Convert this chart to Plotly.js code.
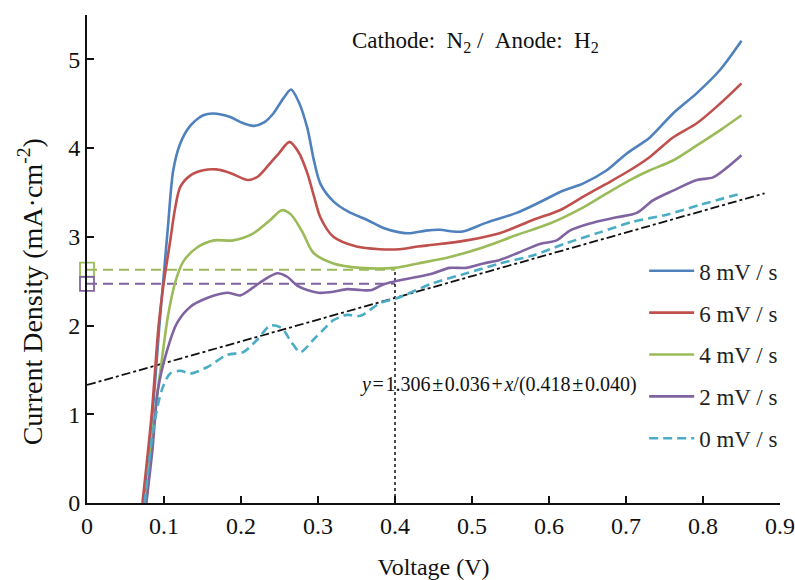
<!DOCTYPE html>
<html>
<head>
<meta charset="utf-8">
<script src="https://cdn.plot.ly/plotly-3.0.1.min.js"></script>
<style>html,body{margin:0;padding:0;background:#fff}#chart{width:795px;height:580px}</style>
</head>
<body>
<div id="chart"></div>
<script>
const seriesNames = ['8 mV / s', '6 mV / s', '4 mV / s', '2 mV / s', '0 mV / s'];

const x8 = [0.073,0.085,0.094,0.1,0.105,0.112,0.121,0.134,0.151,0.164,0.186,0.2,0.216,0.23,0.242,0.255,0.265,0.275,0.286,0.295,0.303,0.32,0.34,0.364,0.385,0.406,0.42,0.44,0.458,0.475,0.488,0.519,0.558,0.588,0.618,0.644,0.675,0.701,0.731,0.761,0.792,0.822,0.85];
const y8 = [0,1.0,2.0,2.6,3.1,3.75,4.05,4.25,4.37,4.39,4.35,4.29,4.25,4.29,4.39,4.56,4.66,4.52,4.23,3.85,3.6,3.40,3.28,3.19,3.1,3.05,3.04,3.07,3.08,3.06,3.06,3.16,3.27,3.39,3.52,3.60,3.75,3.94,4.12,4.39,4.62,4.88,5.21];

const x6 = [0.072,0.084,0.093,0.1,0.108,0.114,0.121,0.134,0.151,0.168,0.186,0.209,0.222,0.233,0.25,0.263,0.275,0.286,0.295,0.303,0.32,0.35,0.38,0.406,0.43,0.45,0.493,0.536,0.579,0.614,0.644,0.675,0.705,0.731,0.761,0.792,0.822,0.85];
const y6 = [0,1.0,2.0,2.5,2.95,3.30,3.56,3.69,3.75,3.76,3.72,3.64,3.68,3.78,3.95,4.07,3.95,3.72,3.45,3.22,3.0,2.89,2.86,2.86,2.89,2.91,2.96,3.04,3.19,3.30,3.45,3.60,3.75,3.90,4.12,4.28,4.50,4.73];

const x4 = [0.077,0.088,0.097,0.105,0.115,0.125,0.143,0.165,0.19,0.216,0.238,0.253,0.265,0.28,0.294,0.32,0.355,0.4,0.43,0.47,0.514,0.558,0.601,0.644,0.675,0.705,0.731,0.761,0.792,0.822,0.85];
const y4 = [0,1.0,1.6,2.1,2.5,2.72,2.88,2.96,2.96,3.04,3.19,3.30,3.25,3.05,2.82,2.70,2.65,2.65,2.70,2.77,2.88,3.02,3.15,3.33,3.49,3.64,3.75,3.86,4.03,4.20,4.37];

const x2 = [0.077,0.085,0.092,0.104,0.117,0.134,0.156,0.182,0.199,0.216,0.229,0.247,0.26,0.273,0.286,0.3,0.32,0.338,0.355,0.37,0.384,0.406,0.43,0.45,0.471,0.493,0.515,0.536,0.56,0.588,0.61,0.627,0.653,0.688,0.714,0.735,0.761,0.792,0.813,0.831,0.85];
const y2 = [0,0.6,1.27,1.72,2.03,2.21,2.31,2.37,2.34,2.43,2.51,2.59,2.55,2.45,2.40,2.37,2.38,2.41,2.40,2.40,2.46,2.51,2.55,2.59,2.65,2.65,2.70,2.74,2.82,2.92,2.96,3.07,3.15,3.22,3.27,3.41,3.52,3.64,3.67,3.78,3.92];

const x0 = [0.075,0.086,0.097,0.108,0.121,0.134,0.156,0.182,0.203,0.221,0.238,0.253,0.265,0.277,0.294,0.31,0.32,0.338,0.355,0.38,0.403,0.45,0.493,0.536,0.579,0.623,0.666,0.709,0.753,0.796,0.85];
const y0 = [0,0.82,1.27,1.46,1.49,1.46,1.53,1.67,1.70,1.84,2.0,1.97,1.82,1.70,1.84,1.98,2.06,2.12,2.11,2.25,2.31,2.48,2.59,2.70,2.79,2.93,3.05,3.17,3.25,3.36,3.49];

const fitX = [0, 0.88];
const fitY = [1.33, 3.49];

const refGreenX = [0, 0.4];
const refGreenY = [2.63, 2.63];
const refPurpleX = [0, 0.4];
const refPurpleY = [2.47, 2.47];
const vlineX = [0.4, 0.4];
const vlineY = [0, 2.65];

const xTicks = [0,0.1,0.2,0.3,0.4,0.5,0.6,0.7,0.8,0.9];
const xTickText = ['0','0.1','0.2','0.3','0.4','0.5','0.6','0.7','0.8','0.9'];
const yTicks = [0,1,2,3,4,5];

const colors = ['#4F81BD','#C0504D','#9BBB59','#8064A2','#4BACC6'];
const serif = 'Liberation Serif, Times New Roman, serif';

const xs = [x8,x6,x4,x2,x0];
const ys = [y8,y6,y4,y2,y0];

const traces = [];
traces.push({x: fitX, y: fitY, mode:'lines', line:{color:'#111', width:1.8, dash:'dashdot'}, showlegend:false, hoverinfo:'skip'});
traces.push({x: refGreenX, y: refGreenY, mode:'lines', line:{color:colors[2], width:2, dash:'10px,6px'}, showlegend:false, hoverinfo:'skip'});
traces.push({x: refPurpleX, y: refPurpleY, mode:'lines', line:{color:colors[3], width:2, dash:'10px,6px'}, showlegend:false, hoverinfo:'skip'});
traces.push({x: [refGreenX[0]], y: [refGreenY[0]], mode:'markers', marker:{symbol:'square-open', size:14, color:colors[2], line:{width:1.8}}, showlegend:false, cliponaxis:false, hoverinfo:'skip'});
traces.push({x: [refPurpleX[0]], y: [refPurpleY[0]], mode:'markers', marker:{symbol:'square-open', size:14, color:colors[3], line:{width:1.8}}, showlegend:false, cliponaxis:false, hoverinfo:'skip'});
traces.push({x: vlineX, y: vlineY, mode:'lines', line:{color:'#111', width:1.5, dash:'dot'}, showlegend:false, hoverinfo:'skip'});

for (let i = 0; i < 5; i++) {
  traces.push({
    x: xs[i], y: ys[i], name: seriesNames[i], mode:'lines',
    line:{color:colors[i], width:2.6, shape:'spline', smoothing:0.8, dash: i===4 ? '9px,5px' : 'solid'},
    legendgroup: 'g'+i
  });
}

const layout = {
  width:795, height:580,
  margin:{l:87, r:15, t:15, b:77},
  paper_bgcolor:'#fff', plot_bgcolor:'#fff',
  font:{family:serif, color:'#111', size:22},
  showlegend:true,
  legend:{x:0.804, y:0.52, xanchor:'left', yanchor:'top', bgcolor:'rgba(0,0,0,0)', font:{family:serif, size:23, color:'#222'}, traceorder:'grouped', tracegroupgap:9, itemwidth:45},
  xaxis:{
    range:[0,0.9], tickvals:xTicks, ticktext:xTickText,
    showline:true, linecolor:'#111', linewidth:2,
    ticks:'inside', ticklen:7, tickwidth:2, tickcolor:'#111',
    showgrid:false, zeroline:false,
    tickfont:{family:serif, size:24, color:'#111'},
    title:{text:'Voltage (V)', font:{family:serif, size:24, color:'#111'}, standoff:22}
  },
  yaxis:{
    range:[0,5.5], tickvals:yTicks,
    showline:true, linecolor:'#111', linewidth:2,
    ticks:'inside', ticklen:7, tickwidth:2, tickcolor:'#111',
    showgrid:false, zeroline:false,
    tickfont:{family:serif, size:24, color:'#111'}
  },
  annotations:[
    {xref:'paper', yref:'paper', x:-0.082, y:0.432, xanchor:'center', yanchor:'middle', showarrow:false, textangle:-90,
     text:'Current Density (mA·cm<sup>-2</sup>)', font:{family:serif, size:28, color:'#111'}},
    {xref:'paper', yref:'paper', x:0.561, y:0.945, xanchor:'center', yanchor:'middle', showarrow:false,
     text:'Cathode:&nbsp;&nbsp;N<sub>2</sub> /&nbsp;&nbsp;Anode:&nbsp;&nbsp;H<sub>2</sub>', font:{family:serif, size:23, color:'#111'}},
    {xref:'x', yref:'y', x:0.534, y:1.34, xanchor:'center', yanchor:'middle', showarrow:false,
     text:'<i>y</i>\u200A=\u200A1.306\u200A±\u200A0.036\u200A+\u200A<i>x</i>/(0.418\u200A±\u200A0.040)', font:{family:serif, size:20, color:'#111'}}
  ]
};

Plotly.newPlot('chart', traces, layout, {displayModeBar:false, staticPlot:true});
</script>
</body>
</html>
